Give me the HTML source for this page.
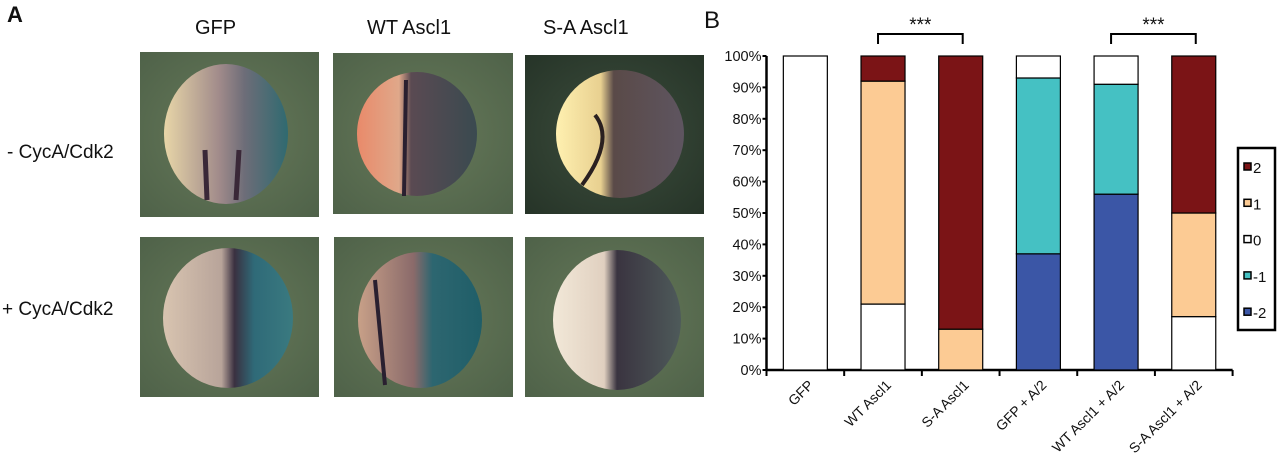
<!DOCTYPE html>
<html><head><meta charset="utf-8"><style>
html,body{margin:0;padding:0;background:#fff;}
body{width:1280px;height:465px;position:relative;overflow:hidden;font-family:"Liberation Sans",Arial,sans-serif;}
.lbl{position:absolute;color:#111;}
</style></head><body>
<div class="lbl" style="left:7px;top:2px;font-size:22px;font-weight:bold;">A</div>
<div class="lbl" style="left:195px;top:17px;font-size:20px;">GFP</div>
<div class="lbl" style="left:367px;top:17px;font-size:20px;">WT Ascl1</div>
<div class="lbl" style="left:543px;top:17px;font-size:20px;">S-A Ascl1</div>
<div class="lbl" style="left:7px;top:142px;font-size:19px;">- CycA/Cdk2</div>
<div class="lbl" style="left:2px;top:299px;font-size:19px;">+ CycA/Cdk2</div>

<svg width="1280" height="465" style="position:absolute;left:0;top:0">
<defs>
<radialGradient id="bg1" cx="50%" cy="50%" r="70%"><stop offset="0" stop-color="#677a5a"/><stop offset="1" stop-color="#4f6249"/></radialGradient>
<radialGradient id="bg2" cx="50%" cy="50%" r="70%"><stop offset="0" stop-color="#3d4e3d"/><stop offset="1" stop-color="#263428"/></radialGradient>
<linearGradient id="e1" x1="0" x2="1"><stop offset="0" stop-color="#e8d6a8"/><stop offset="0.45" stop-color="#a08a8a"/><stop offset="0.65" stop-color="#6d6d78"/><stop offset="1" stop-color="#2f6a70"/></linearGradient>
<linearGradient id="e2" x1="0" x2="1"><stop offset="0" stop-color="#e98a6a"/><stop offset="0.35" stop-color="#e0a88a"/><stop offset="0.45" stop-color="#5a4a52"/><stop offset="1" stop-color="#3a4a50"/></linearGradient>
<linearGradient id="e3" x1="0" x2="1"><stop offset="0" stop-color="#fff0b0"/><stop offset="0.35" stop-color="#e8d090"/><stop offset="0.45" stop-color="#5a4a48"/><stop offset="1" stop-color="#5e5560"/></linearGradient>
<linearGradient id="e4" x1="0" x2="1"><stop offset="0" stop-color="#d8c4b0"/><stop offset="0.45" stop-color="#b8a49a"/><stop offset="0.55" stop-color="#3a3040"/><stop offset="0.7" stop-color="#2f6a78"/><stop offset="1" stop-color="#3a7a80"/></linearGradient>
<linearGradient id="e5" x1="0" x2="1"><stop offset="0" stop-color="#c8a088"/><stop offset="0.45" stop-color="#8a6a6a"/><stop offset="0.6" stop-color="#2d6670"/><stop offset="1" stop-color="#1f5e68"/></linearGradient>
<linearGradient id="e6" x1="0" x2="1"><stop offset="0" stop-color="#f2e8d8"/><stop offset="0.4" stop-color="#e0d0c0"/><stop offset="0.5" stop-color="#3a3440"/><stop offset="1" stop-color="#4e5a5a"/></linearGradient>
</defs>
<g>
<rect x="140" y="52" width="179" height="165" fill="url(#bg1)"/>
<ellipse cx="226" cy="134" rx="62" ry="70" fill="url(#e1)"/>
<path d="M205 150 L207 200 M239 150 L236 200" stroke="#3a2838" stroke-width="5" fill="none"/>
<rect x="333" y="53" width="180" height="161" fill="url(#bg1)"/>
<ellipse cx="417" cy="134" rx="60" ry="62" fill="url(#e2)"/>
<path d="M406 80 L404 196" stroke="#2a2030" stroke-width="4" fill="none"/>
<rect x="525" y="55" width="179" height="159" fill="url(#bg2)"/>
<ellipse cx="620" cy="134" rx="64" ry="64" fill="url(#e3)"/>
<path d="M595 115 Q615 140 582 185" stroke="#2a2020" stroke-width="4" fill="none"/>
<rect x="140" y="237" width="179" height="160" fill="url(#bg1)"/>
<ellipse cx="228" cy="318" rx="65" ry="70" fill="url(#e4)"/>
<rect x="334" y="237" width="179" height="160" fill="url(#bg1)"/>
<ellipse cx="420" cy="320" rx="62" ry="68" fill="url(#e5)"/>
<path d="M375 280 L385 385" stroke="#2a2030" stroke-width="4" fill="none"/>
<rect x="525" y="237" width="179" height="160" fill="url(#bg1)"/>
<ellipse cx="617" cy="320" rx="64" ry="70" fill="url(#e6)"/>
</g>
<text x="704" y="28" font-size="24" fill="#111">B</text>
<g id="chart"></g>
</svg>
<script>
const categories=["GFP","WT Ascl1","S-A Ascl1","GFP + A/2","WT Ascl1 + A/2","S-A Ascl1 + A/2"];
const seriesNames=["-2","-1","0","1","2"];
const sMinus2=[0,0,0,37,56,0];
const sMinus1=[0,0,0,56,35,0];
const sZero=[100,21,0,7,9,17];
const sOne=[0,71,13,0,0,33];
const sTwo=[0,8,87,0,0,50];
const yTicks=[0,10,20,30,40,50,60,70,80,90,100];
const colors=["#3b56a6","#45c1c3","#ffffff","#fccb94","#7b1416"];
const series=[sMinus2,sMinus1,sZero,sOne,sTwo];
const NS="http://www.w3.org/2000/svg";
const g=document.getElementById('chart');
const x0=766.5,x1=1232.6,yTop=56,yBot=370;
const bw=(x1-x0)/categories.length;
const y=v=>yBot-(v/100)*(yBot-yTop);
const xc=i=>x0+bw*(i+0.5);
function mk(t,a){const e=document.createElementNS(NS,t);for(const k in a)e.setAttribute(k,a[k]);g.appendChild(e);return e;}
let ax=mk('line',{x1:x0,y1:yTop,x2:x0,y2:yBot,stroke:'#000','stroke-width':2.5});


let axx=mk('line',{x1:x0,y1:yBot,x2:x1,y2:yBot,stroke:'#000','stroke-width':2.5});


yTicks.forEach(t=>{
  mk('line',{x1:x0-4,y1:y(t),x2:x0,y2:y(t),stroke:'#000','stroke-width':2});
  const tx=mk('text',{x:x0-5,y:y(t)+5,'text-anchor':'end','font-size':14.5,fill:'#111'});
  tx.textContent=t+'%';
  
  
});
for(let i=0;i<=categories.length;i++){mk('line',{x1:x0+bw*i,y1:yBot,x2:x0+bw*i,y2:yBot+6,stroke:'#000','stroke-width':2});}
categories.forEach((c,i)=>{
  let acc=0;
  series.forEach((s,k)=>{
    const v=s[i]; if(v<=0) return;
    const r=mk('rect',{x:xc(i)-22,y:y(acc+v),width:44,height:y(acc)-y(acc+v),fill:colors[k],stroke:'#000','stroke-width':1.2});
    
    
    acc+=v;
  });
  const cx=xc(i)+9,cy=yBot+16;
  const t=mk('text',{x:cx,y:cy,'text-anchor':'end','font-size':14,fill:'#111',transform:`rotate(-45 ${cx} ${cy})`});
  t.textContent=c;
  
  
});
[[1,2],[4,5]].forEach(p=>{
  const a=xc(p[0])-5,b=xc(p[1])+2;
  const br=mk('path',{d:`M${a} 44 V34 H${b} V44`,fill:'none',stroke:'#000','stroke-width':2});
  
  
  const st=mk('text',{x:(a+b)/2,y:31,'text-anchor':'middle','font-size':19,fill:'#111'});
  st.textContent='***';
  
  
});
const lg=mk('rect',{x:1238,y:148,width:37,height:182,fill:'#fff',stroke:'#000','stroke-width':2.5});


const legOrder=[4,3,2,1,0];
legOrder.forEach((k,j)=>{
  const yy=167+j*36.3;
  const sw=mk('rect',{x:1244,y:yy-4,width:7,height:7,fill:colors[k],stroke:'#000','stroke-width':1.5});
  
  
  const lt=mk('text',{x:1253,y:yy+6,'font-size':15,fill:'#111'});
  lt.textContent=seriesNames[k];
  
  
});
</script>
</body></html>
